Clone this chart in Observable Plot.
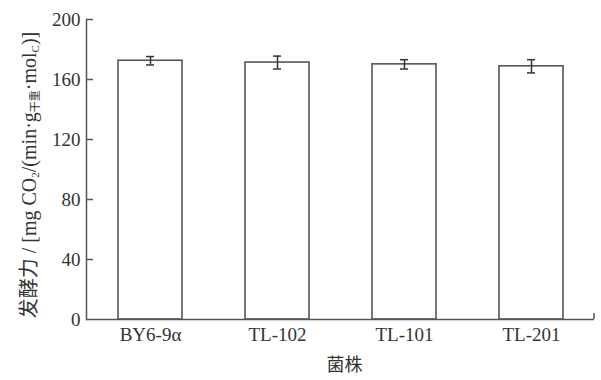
<!DOCTYPE html>
<html>
<head>
<meta charset="utf-8">
<script src="https://cdn.jsdelivr.net/npm/d3@7"></script>
<script src="https://cdn.jsdelivr.net/npm/@observablehq/plot@0.6"></script>
<style>
  body { margin: 0; background: #fff; }
  svg { display: block; }
</style>
</head>
<body>
<div id="chart"></div>
<script>
// Fermentation activity of the parent strain and three mutants (mean ± SD)
const strains = ["BY6-9α", "TL-102", "TL-101", "TL-201"];
const activity = [172.5, 171.3, 170.1, 168.8];
const errors = [2.8, 4.3, 3.1, 4.4];
const yTicks = [0, 40, 80, 120, 160, 200];
const xTitle = "菌株";

const rows = strains.map((s, i) => ({strain: s, value: activity[i], err: errors[i]}));

const W = 601, H = 380;
const mL = 86, mR = 7, mT = 19, mB = 61;
const ink = "#555";
const serif = "'Liberation Serif', 'Times New Roman', 'Noto Sans CJK SC', serif";

const chart = Plot.plot({
  width: W,
  height: H,
  marginLeft: mL,
  marginRight: mR,
  marginTop: mT,
  marginBottom: mB,
  style: {fontFamily: serif, fontSize: "19px", color: "#333", background: "#fff", overflow: "visible"},
  x: {domain: strains, paddingInner: 0.5, paddingOuter: 0.25, label: null},
  y: {domain: [0, 200], ticks: yTicks, label: null},
  marks: [
    Plot.barY(rows, {x: "strain", y: "value", fill: "white", stroke: ink, strokeWidth: 1.6}),
    // error bars: stem plus two caps
    Plot.ruleX(rows, {x: "strain", y1: d => d.value - d.err, y2: d => d.value + d.err, stroke: "#333", strokeWidth: 1.5}),
    Plot.tickY(rows, {x: "strain", y: d => d.value - d.err, insetLeft: 28, insetRight: 28, stroke: "#333", strokeWidth: 1.5}),
    Plot.tickY(rows, {x: "strain", y: d => d.value + d.err, insetLeft: 28, insetRight: 28, stroke: "#333", strokeWidth: 1.5}),
    // inward y ticks
    Plot.ruleY(yTicks.slice(1), {y: d => d, insetRight: W - mL - mR - 7, stroke: ink, strokeWidth: 1.5}),
    Plot.frame({anchor: "left", stroke: ink, strokeWidth: 1.5}),
    Plot.ruleY([0], {stroke: ink, strokeWidth: 1.5}),
    Plot.axisY({ticks: yTicks, tickSize: 0, tickPadding: 6, label: null}),
    Plot.axisX({tickSize: 0, tickPadding: 8, label: null}),
    Plot.text([xTitle], {text: d => d, frameAnchor: "bottom", dy: 51, dx: 4, fontFamily: "'Noto Sans CJK SC', sans-serif", fontSize: 18, fill: "#333"})
  ]
});

document.getElementById("chart").append(chart);

const svg = d3.select(chart);
const y = chart.scale("y");

// small closing tick at the right end of the x axis
svg.append("line")
  .attr("x1", W - mR).attr("x2", W - mR)
  .attr("y1", y.apply(0)).attr("y2", y.apply(0) - 6)
  .attr("stroke", ink).attr("stroke-width", 1.5);

// rotated y title with subscripts
const yc = (y.apply(0) + y.apply(200)) / 2 + 6;
const title = svg.append("text")
  .attr("transform", `translate(31,${yc}) rotate(-90)`)
  .attr("text-anchor", "middle")
  .attr("dominant-baseline", "middle")
  .attr("fill", "#333")
  .style("font-family", serif)
  .style("font-size", "20px");
const parts = [
  ["发酵力 / [mg CO", false],
  ["2", true],
  ["/(min·g", false],
  ["干重", true],
  ["·mol", false],
  ["C", true],
  [")]", false]
];
let shifted = false;
for (const [t, sub] of parts) {
  const ts = title.append("tspan").text(t);
  if (sub) ts.style("font-size", "11px");
  if (sub && !shifted) { ts.attr("dy", 5); shifted = true; }
  else if (!sub && shifted) { ts.attr("dy", -5); shifted = false; }
}
</script>
</body>
</html>
